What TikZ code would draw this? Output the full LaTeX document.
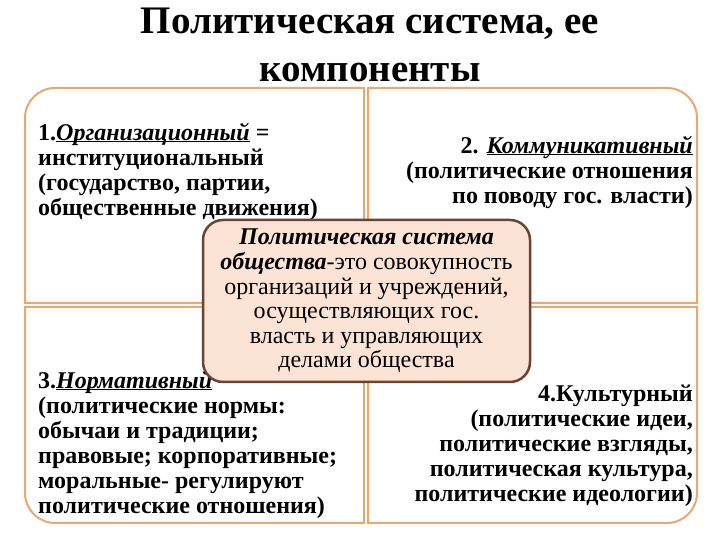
\documentclass[tikz,border=0pt]{standalone}
\usepackage{fontspec}
\setmainfont{Liberation Serif}
\usetikzlibrary{positioning}
\newcommand\ulword[1]{\underline{\smash{#1}}}

\begin{document}
\begin{tikzpicture}[x=1pt,y=1pt]
    \definecolor{colquad}{HTML}{E8A870}
    \definecolor{colcore}{HTML}{FBE3D5}
    \definecolor{colcoreline}{HTML}{6B4332}
    \tikzstyle{quad}=[draw=colquad,line width=2pt,fill=white]
    \tikzstyle{core}=[draw=colcoreline,fill=colcore,line width=2.5pt,rounded corners=20pt,
                      minimum width=327pt,minimum height=162pt,align=center,inner sep=0pt,
                      font=\fontsize{24}{24.6}\selectfont]
    \tikzstyle{qtext}=[inner sep=0pt,font=\fontsize{24}{25}\selectfont\bfseries]
    \useasboundingbox (0,0) rectangle (720,540);
    % title
    \node[anchor=north,align=center,inner sep=0pt,font=\fontsize{39}{48}\selectfont\bfseries]
        (title) at (370,532) {Политическая система, ее\\компоненты};
    % quadrants
    \draw[quad] (364,237) -- (25,237) -- (25,422) arc[start angle=180,end angle=90,radius=30] -- (364,452) -- cycle;
    \draw[quad] (368,237) -- (368,452) -- (667,452) arc[start angle=90,end angle=0,radius=30] -- (697,237) -- cycle;
    \draw[quad] (364,233) -- (25,233) -- (25,47) arc[start angle=180,end angle=270,radius=30] -- (364,17) -- cycle;
    \draw[quad] (368,233) -- (697,233) -- (697,47) arc[start angle=0,end angle=-90,radius=30] -- (368,17) -- cycle;
    % texts
    \node[qtext,anchor=north west,align=left] (q1) at (38,416)
        {1.\ulword{\textit{Организационный}} =\\институциональный\\(государство, партии,\\общественные движения)};
    \node[qtext,anchor=north east,align=right] (q2) at (693,403)
        {2. \ulword{\textit{Коммуникативный}}\\(политические отношения\\по поводу гос. власти)};
    \node[qtext,anchor=north west,align=left] (q3) at (38,168)
        {3.\ulword{\textit{Нормативный}}\\(политические нормы:\\обычаи и традиции;\\правовые; корпоративные;\\моральные- регулируют\\политические отношения)};
    \node[qtext,anchor=north east,align=right] (q4) at (693,155)
        {4.Культурный\\(политические идеи,\\политические взгляды,\\политическая культура,\\политические идеологии)};
    % centre
    \node[core] (sys) at (366.5,239)
        {\textbf{\textit{Политическая система}}\\\textbf{\textit{общества}}-это совокупность\\организаций и учреждений,\\осуществляющих гос.\\власть и управляющих\\делами общества};
\end{tikzpicture}
\end{document}
